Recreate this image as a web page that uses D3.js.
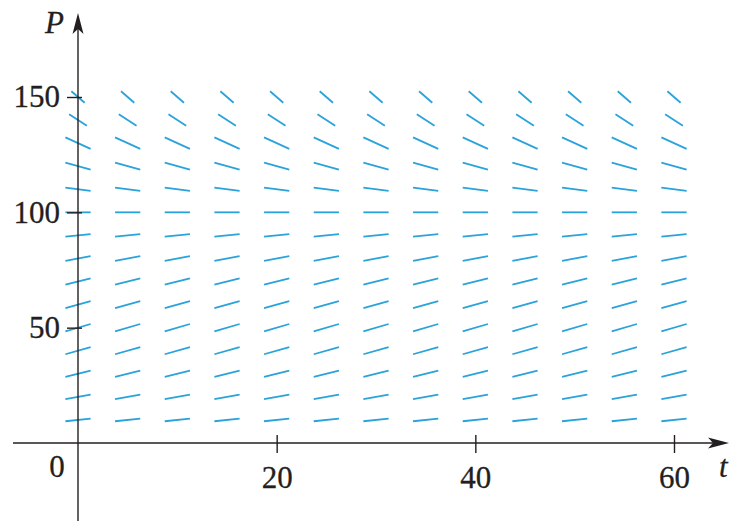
<!DOCTYPE html>
<html>
<head>
<meta charset="utf-8">
<script src="https://cdn.jsdelivr.net/npm/d3@7"></script>
<style>
  html, body { margin: 0; padding: 0; background: #fff; }
  svg { display: block; }
  text { font-family: 'Liberation Serif', 'DejaVu Serif', serif; font-size: 31px; fill: #231f20; stroke: #231f20; stroke-width: 0.3px; }
</style>
</head>
<body>
<div id="chart"></div>
<script>
// grid of the direction field
const tValues = [0, 5, 10, 15, 20, 25, 30, 35, 40, 45, 50, 55, 60]
const pValues = [10, 20, 30, 40, 50, 60, 70, 80, 90, 100, 110, 120, 130, 140, 150]
// slope dP/dt (same in every column)
const slopes = [0.45, 0.8, 1.05, 1.2, 1.25, 1.2, 1.05, 0.8, 0.45, 0, -0.55, -1.2, -1.95, -2.8, -3.75]

const xTicks = [20, 40, 60]
const yTicks = [50, 100, 150]

const width = 729
const height = 521
const ink = "#231f20"
const segColor = "#2aa2da"

const svg = d3.select("#chart").append("svg")
  .attr("width", width)
  .attr("height", height)
  .attr("viewBox", [0, 0, width, height])

const x = d3.scaleLinear().domain([0, 60]).range([78, 674])
const y = d3.scaleLinear().domain([0, 150]).range([443, 97])

// each segment lives in a box of 2.5 (t) by 5 (P) around its grid point
const halfT = 1.27
const halfP = 2.5

const rows = pValues.map((p, i) => ({p: p, s: slopes[i]}))
const segs = []
tValues.forEach(t => {
  rows.forEach(r => {
    const ht = r.s == 0 ? halfT : Math.min(halfT, halfP / Math.abs(r.s))
    segs.push({t: t, p: r.p, s: r.s, ht: ht})
  })
})

svg.append("g")
  .selectAll("line")
  .data(segs)
  .join("line")
    .attr("x1", d => x(d.t - d.ht))
    .attr("y1", d => y(d.p - d.s * d.ht))
    .attr("x2", d => x(d.t + d.ht))
    .attr("y2", d => y(d.p + d.s * d.ht))
    .attr("stroke", segColor)
    .attr("stroke-width", 1.8)

// axis lines
const x0 = x(0), y0 = y(0)
svg.append("line")
  .attr("x1", 13).attr("y1", y0)
  .attr("x2", 722).attr("y2", y0)
  .attr("stroke", ink).attr("stroke-width", 1.4)
svg.append("line")
  .attr("x1", x0).attr("y1", height)
  .attr("x2", x0).attr("y2", 20)
  .attr("stroke", ink).attr("stroke-width", 1.4)

// arrow heads
svg.append("path")
  .attr("d", `M${x0},13 L${x0 + 5.5},34 L${x0},29 L${x0 - 5.5},34 Z`)
  .attr("fill", ink)
svg.append("path")
  .attr("d", `M729,${y0} L708,${y0 - 5.5} L713,${y0} L708,${y0 + 5.5} Z`)
  .attr("fill", ink)

// y axis ticks
const yAxis = svg.append("g")
  .attr("transform", `translate(${x0},0)`)
  .call(d3.axisLeft(y).tickValues(yTicks).tickSizeInner(11).tickSizeOuter(0).tickPadding(7))
yAxis.select(".domain").remove()
yAxis.selectAll(".tick line").attr("x1", 4).attr("stroke", ink).attr("stroke-width", 1.4)
yAxis.selectAll(".tick text").attr("font-size", null).attr("font-family", null).attr("fill", null)

// x axis ticks
const xAxis = svg.append("g")
  .attr("transform", `translate(0,${y0})`)
  .call(d3.axisBottom(x).tickValues(xTicks).tickSizeInner(10).tickSizeOuter(0))
xAxis.select(".domain").remove()
xAxis.selectAll(".tick line").attr("y1", -8).attr("stroke", ink).attr("stroke-width", 1.4)
xAxis.selectAll(".tick text").attr("y", 45).attr("dy", 0).attr("fill", null)

// origin and axis names
svg.append("text")
  .attr("x", 57).attr("y", 477)
  .attr("text-anchor", "middle")
  .text("0")

svg.append("text")
  .attr("x", 45).attr("y", 33)
  .style("font-style", "italic")
  .text("P")

svg.append("text")
  .attr("x", 719).attr("y", 477)
  .style("font-style", "italic")
  .text("t")
</script>
</body>
</html>
